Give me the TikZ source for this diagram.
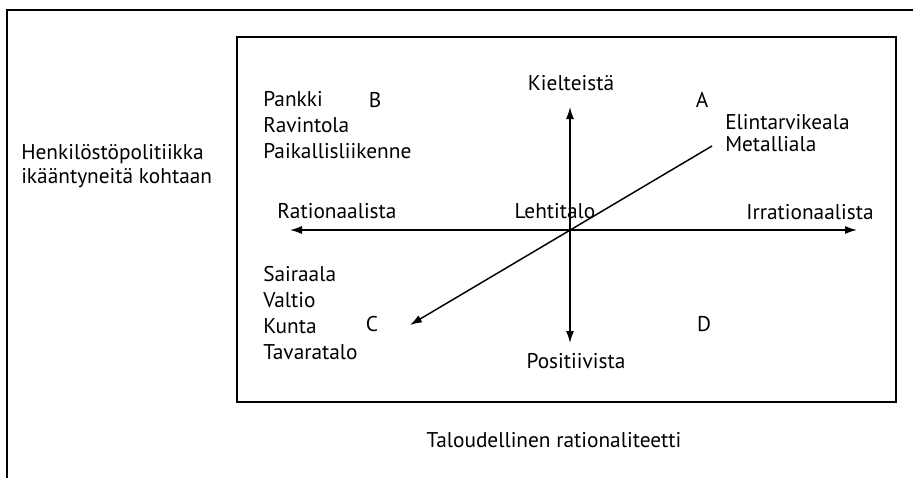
\documentclass[tikz,border=0pt]{standalone}
\usepackage{fontspec}
\setmainfont{PT Sans}
\usetikzlibrary{arrows.meta}
\begin{document}
\begin{tikzpicture}[x=0.75pt,y=-0.75pt,
    lbl/.style={inner sep=0pt,font=\fontsize{16}{19.5}\selectfont},
    lst/.style={lbl,align=left,anchor=north west},
    axis/.style={line width=1.1pt,{Latex[length=9pt,width=6pt]}-{Latex[length=9pt,width=6pt]}}]
  \useasboundingbox (0,0) rectangle (913,478);
  % frames
  \draw[line width=1.6pt] (7,478) -- (7,10) -- (913,10);
  \draw[line width=1.6pt] (237,37) rectangle (896,402);
  % axes
  \coordinate (o) at (570,230);
  \coordinate (w) at (290,230);
  \coordinate (e) at (857,230);
  \coordinate (n) at (570,107);
  \coordinate (s) at (570,343);
  \coordinate (ne) at (712,146);
  \coordinate (sw) at (410,325);
  \draw[axis] (w) -- (e);
  \draw[axis] (n) -- (s);
  \draw[line width=1.1pt,-{Latex[length=9pt,width=6pt]}] (ne) -- (sw);
  % labels
  \node[lbl,anchor=base] (kiel) at (571,90) {Kielteistä};
  \node[lbl,anchor=base] (posi) at (576,368) {Positiivista};
  \node[lbl,anchor=base] (rat) at (337,218) {Rationaalista};
  \node[lbl,anchor=base] (leht) at (555,218) {Lehtitalo};
  \node[lbl,anchor=base] (irr) at (810,219) {Irrationaalista};
  \node[lbl,anchor=base] (a) at (702,107) {A};
  \node[lbl,anchor=base] (b) at (375,108) {B};
  \node[lbl,anchor=base] (c) at (372,331) {C};
  \node[lbl,anchor=base] (d) at (704,331) {D};
  \node[lst] (blist) at (263,91) {Pankki\\Ravintola\\Paikallisliikenne};
  \node[lst] (clist) at (263,266) {Sairaala\\Valtio\\Kunta\\Tavaratalo};
  \node[lst,font=\fontsize{16}{16.5}\selectfont] (alist) at (725,114) {Elintarvikeala\\Metalliala};
  \node[lst,font=\fontsize{16}{18}\selectfont] (henk) at (21,144) {Henkilöstöpolitiikka\\ikääntyneitä kohtaan};
  \node[lbl,anchor=base] (talo) at (554,447) {Taloudellinen rationaliteetti};
\end{tikzpicture}
\end{document}
